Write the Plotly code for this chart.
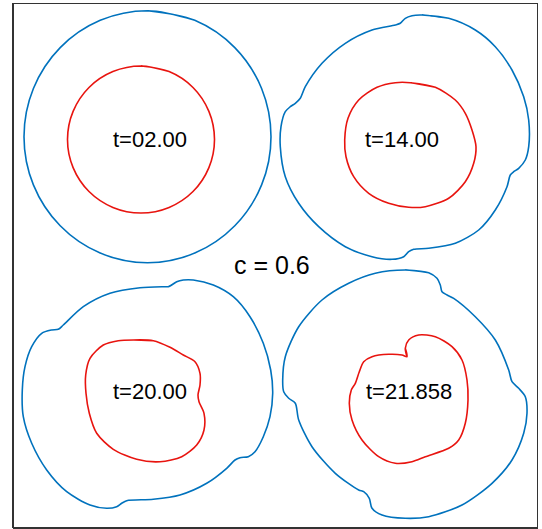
import plotly.graph_objects as go

# contour outlines (x, y in plot units; y grows downward)
blue_02_x = [147.5, 194.8, 234.8, 261.6, 271, 261.6, 234.8, 194.8, 147.5, 100.2, 60.2, 33.4, 24, 33.4, 60.2, 100.2]
blue_02_y = [10.7, 20.3, 47.6, 88.5, 136.7, 184.9, 225.8, 253.1, 262.7, 253.1, 225.8, 184.9, 136.7, 88.5, 47.6, 20.3]
red_02_x = [141, 169.1, 193, 208.9, 214.5, 208.9, 193, 169.1, 141, 112.9, 89, 73.1, 67.5, 73.1, 89, 112.9]
red_02_y = [66, 71.6, 87.5, 111.4, 139.5, 167.6, 191.5, 207.4, 213, 207.4, 191.5, 167.6, 139.5, 111.4, 87.5, 71.6]

blue_14_x = [422, 448.7, 475.3, 495.3, 512, 523.7, 528.7, 528.7, 525.3, 518.7, 513.7, 510.3, 507, 495.3, 478.7, 455.3, 428.7, 413.7, 408.7, 403.7, 392, 372, 345.3, 318.7, 298.7, 285.3, 280.3, 281, 285.3, 290.3, 295.3, 300.3, 305.3, 322, 345.3, 372, 395.3, 400.3, 405.3, 412]
blue_14_y = [15, 18.3, 30, 46.7, 70, 96.7, 120, 146.7, 160, 168.3, 171.7, 175, 186.7, 210, 230, 243.3, 248.3, 249.3, 251.7, 256.7, 259.3, 256.7, 246.7, 226.7, 203.3, 176.7, 146.7, 126.7, 111.7, 106.7, 103.3, 98.3, 86.7, 63.3, 43.3, 30, 25, 23.3, 18.3, 15.7]
red_14_x = [410.3, 435.3, 455.3, 465.3, 472, 476, 473.7, 465.3, 448.7, 425.3, 408.7, 388.7, 368.7, 353.7, 346, 344.7, 348, 358.7, 377, 395.3]
red_14_y = [82.7, 87.3, 100, 113.3, 130, 146.7, 163.3, 181.7, 198.3, 206.7, 207.3, 203.3, 193.3, 176.7, 156.7, 140, 118.3, 100, 87.3, 82.7]

blue_20_x = [168.3, 171.7, 176.7, 183.3, 193.3, 213.3, 233.3, 250, 263.3, 270.7, 272.7, 270, 263.3, 255, 248.3, 240, 235, 226.7, 206.7, 180, 153.3, 126.7, 121.7, 116.7, 106.7, 90, 66.7, 46.7, 31.7, 23.3, 22.3, 25, 31.7, 41.7, 51.7, 58.3, 63.3, 83.3, 110, 140, 163.3]
blue_20_y = [286.7, 285, 281.7, 280, 280, 285, 296.7, 316.7, 343.3, 370, 393.3, 416.7, 436.7, 451.7, 456.7, 457.7, 460, 468.3, 483.3, 495, 499.3, 500.7, 503.3, 506.7, 508.3, 505, 491.7, 470, 443.3, 416.7, 390, 366.7, 346.7, 333.3, 330, 329.3, 325, 306.7, 293.3, 287.7, 286.7]
red_20_x = [133.3, 153.3, 170, 183.3, 195, 200, 200, 198, 199, 204, 204, 196.7, 181.7, 160, 136.7, 113.3, 96.7, 89.3, 86, 85.7, 90, 103.3, 118.3]
red_20_y = [340, 340.7, 347.3, 355, 361.7, 373.3, 385, 395, 401.7, 413.3, 430, 445, 456.7, 461.7, 459.3, 449.3, 433.3, 413.3, 393.3, 375, 358.3, 345, 340.7]

blue_21_x = [405.3, 428.7, 437, 440.3, 442, 447, 453.7, 475.3, 495.3, 508.7, 512, 518.7, 525.3, 527, 523.7, 512, 492, 462, 428.7, 405.3, 382, 372, 369.3, 363.7, 358.7, 335.3, 312, 298.7, 295.3, 288.7, 283.7, 282.7, 285.3, 298.7, 322, 348.7, 375.3]
blue_21_y = [270, 272.7, 278.3, 285, 291.7, 295, 298.3, 316.7, 340, 370, 381.7, 388.3, 396.7, 413.3, 433.3, 460, 483.3, 505, 516.7, 518.3, 515, 508.3, 498.3, 491.7, 490, 473.3, 446.7, 420, 403.3, 398.3, 391.7, 380, 356.7, 326.7, 300, 283.3, 273.3]
red_21_x = [407, 405.3, 408.7, 418.7, 435.3, 452, 462, 467, 468, 465.3, 458.7, 448.7, 425.3, 412, 395.3, 378.7, 362, 352, 349.3, 351.3, 355.3, 359.3, 363.7, 372, 388.7, 402]
red_21_y = [356.7, 348.3, 340, 335, 336.7, 346.7, 360, 380, 400, 423.3, 440, 448.3, 456.7, 461.7, 463.3, 456.7, 440, 420, 403.3, 390, 383.3, 371.7, 361.7, 356.7, 354.3, 355]

labels = ['t=02.00', 't=14.00', 't=20.00', 't=21.858']
label_x = [150, 402, 150, 409]
label_y = [139, 139, 391, 391]
title_text = 'c = 0.6'

W, H = 542, 529
BLUE = '#0072BD'
RED = '#E8140F'

fig = go.Figure()


def closed(v):
    # repeat the first two points so the spline has no corner where it closes
    return list(v) + list(v[:2])


for xs, ys, col, smooth in [
    (blue_02_x, blue_02_y, BLUE, 1.0), (red_02_x, red_02_y, RED, 1.0),
    (blue_14_x, blue_14_y, BLUE, 0.8), (red_14_x, red_14_y, RED, 0.8),
    (blue_20_x, blue_20_y, BLUE, 0.8), (red_20_x, red_20_y, RED, 0.8),
    (blue_21_x, blue_21_y, BLUE, 0.8), (red_21_x, red_21_y, RED, 0.8),
]:
    fig.add_trace(go.Scatter(x=closed(xs), y=closed(ys), mode='lines',
                             line=dict(color=col, width=1.6, shape='spline', smoothing=smooth),
                             hoverinfo='skip', showlegend=False))

for txt, lx, ly in zip(labels, label_x, label_y):
    fig.add_annotation(x=lx, y=ly, text=txt, showarrow=False,
                       font=dict(size=22, color='black'))
fig.add_annotation(x=272, y=265, text=title_text, showarrow=False,
                   font=dict(size=25, color='black'))

# axes box: heavier left/bottom, thin top/right (drawn in data units = pixels)
box = '#333333'
fig.add_shape(type='line', x0=13, x1=13, y0=3, y1=528, line=dict(color=box, width=2))
fig.add_shape(type='line', x0=13, x1=538, y0=528, y1=528, line=dict(color=box, width=2))
fig.add_shape(type='line', x0=13, x1=538, y0=3.5, y1=3.5, line=dict(color=box, width=1))
fig.add_shape(type='line', x0=537.5, x1=537.5, y0=3, y1=528, line=dict(color=box, width=1))

fig.update_xaxes(range=[0, W], visible=False)
fig.update_yaxes(range=[H, 0], visible=False)
fig.update_layout(
    width=W, height=H,
    margin=dict(l=0, r=0, t=0, b=0),
    paper_bgcolor='white', plot_bgcolor='white',
    font=dict(family='Liberation Sans, Arial, sans-serif'),
    showlegend=False,
)

fig.write_html("out.html", config={'displayModeBar': False},
               post_script="document.body.style.margin='0';document.body.style.overflow='hidden';")
